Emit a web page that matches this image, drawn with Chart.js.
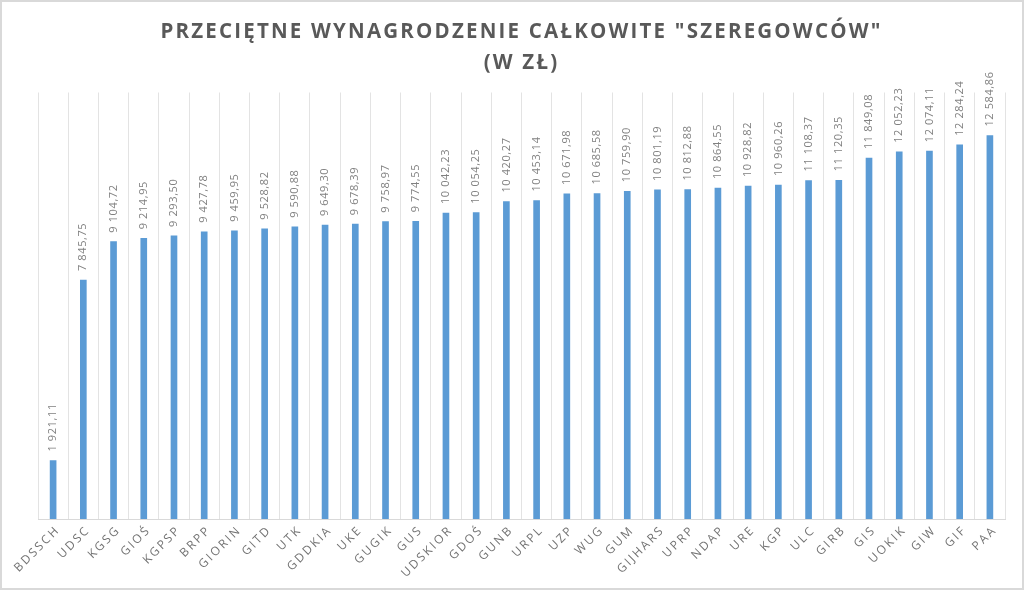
<!DOCTYPE html>
<html>
<head>
<meta charset="utf-8">
<script src="https://cdn.jsdelivr.net/npm/chart.js@4"></script>
<style>
  html, body { margin: 0; padding: 0; background: #fff; }
  #wrap { width: 1024px; height: 590px; box-sizing: border-box; border: 2px solid #d9d9d9; position: relative; }
  canvas { display: block; }
</style>
</head>
<body>
<div id="wrap"><canvas id="salaryChart" width="1020" height="586"></canvas></div>
<script>
const offices = ['BDSSCH', 'UDSC', 'KGSG', 'GIOŚ', 'KGPSP', 'BRPP', 'GIORIN', 'GITD', 'UTK', 'GDDKIA',
    'UKE', 'GUGIK', 'GUS', 'UDSKIOR', 'GDOŚ', 'GUNB', 'URPL', 'UZP', 'WUG', 'GUM',
    'GIJHARS', 'UPRP', 'NDAP', 'URE', 'KGP', 'ULC', 'GIRB', 'GIS', 'UOKIK', 'GIW', 'GIF', 'PAA'];

const salaries = [1921.11, 7845.75, 9104.72, 9214.95, 9293.50, 9427.78, 9459.95, 9528.82, 9590.88, 9649.30,
    9678.39, 9758.97, 9774.55, 10042.23, 10054.25, 10420.27, 10453.14, 10671.98, 10685.58, 10759.90,
    10801.19, 10812.88, 10864.55, 10928.82, 10960.26, 11108.37, 11120.35, 11849.08, 12052.23, 12074.11,
    12284.24, 12584.86];

const titleLines = ['PRZECIĘTNE WYNAGRODZENIE CAŁKOWITE "SZEREGOWCÓW"', '(W ZŁ)'];

// Polish style: space as thousands separator, comma for decimals
function formatPln(v) {
    const parts = v.toFixed(2).split('.');
    const intPart = parts[0].replace(/\B(?=(\d{3})+(?!\d))/g, ' ');
    return intPart + ',' + parts[1];
}

const spacingPlugin = {
    id: 'spacing',
    beforeDraw(chart) {
        chart.ctx.letterSpacing = '2.2px';
    }
};

const valueLabels = {
    id: 'valueLabels',
    afterDatasetsDraw(chart) {
        const ctx = chart.ctx;
        const meta = chart.getDatasetMeta(0);
        ctx.save();
        ctx.letterSpacing = '0.6px';
        ctx.font = '11px "Open Sans"';
        ctx.fillStyle = '#808080';
        ctx.textAlign = 'left';
        ctx.textBaseline = 'middle';
        meta.data.forEach((bar, i) => {
            ctx.save();
            ctx.translate(bar.x, bar.y - 9);
            ctx.rotate(-Math.PI / 2);
            ctx.fillText(formatPln(salaries[i]), 0, 0);
            ctx.restore();
        });
        ctx.restore();
    }
};

new Chart(document.getElementById('salaryChart'), {
    type: 'bar',
    data: {
        labels: offices,
        datasets: [{
            data: salaries,
            backgroundColor: '#5b9bd5',
            barThickness: 6
        }]
    },
    options: {
        responsive: false,
        animation: false,
        layout: {
            padding: { top: 13, left: 36, right: 17, bottom: 0 }
        },
        plugins: {
            legend: { display: false },
            tooltip: { enabled: false },
            title: {
                display: true,
                text: titleLines,
                color: '#595959',
                font: { family: '"Open Sans"', size: 20.5, weight: 'bold', lineHeight: 1.5 },
                padding: { top: 2, bottom: 14 }
            }
        },
        scales: {
            x: {
                grid: {
                    offset: true,
                    color: '#e3e3e3',
                    drawTicks: false
                },
                border: { color: '#d9d9d9' },
                ticks: {
                    color: '#737373',
                    font: { family: '"Open Sans"', size: 12 },
                    minRotation: 45,
                    maxRotation: 45,
                    autoSkip: false,
                    padding: 4,
                    labelOffset: 5
                },
                afterFit(scale) {
                    scale.height = 69;
                }
            },
            y: {
                display: false,
                min: 0,
                max: 14000
            }
        }
    },
    plugins: [spacingPlugin, valueLabels]
});
</script>
</body>
</html>
